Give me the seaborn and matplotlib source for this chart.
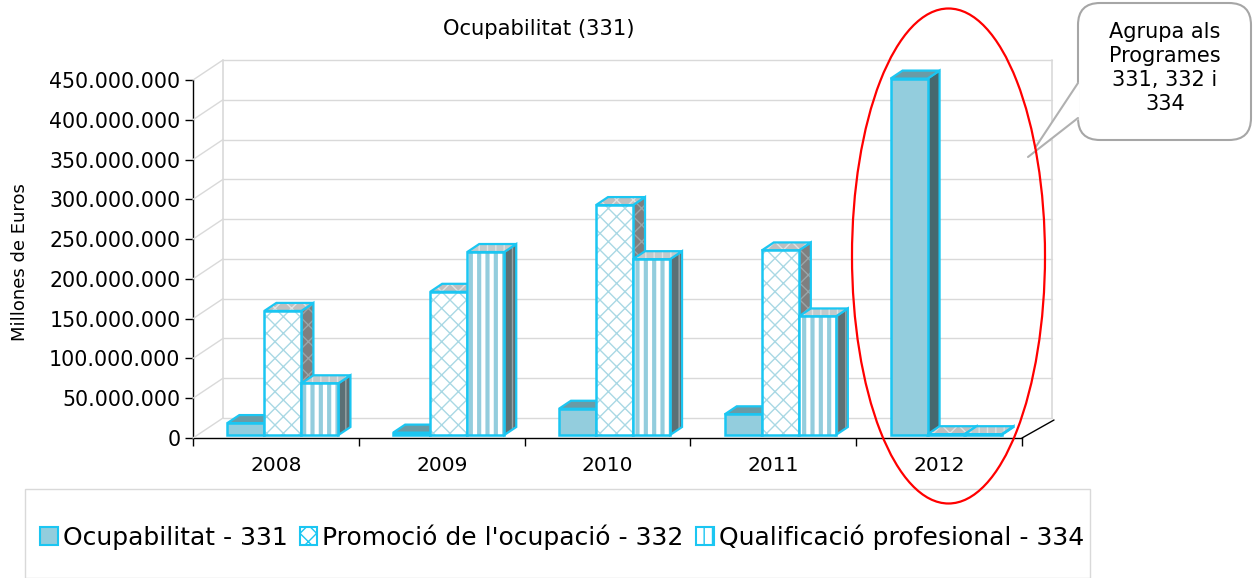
import pandas as pd
import matplotlib
matplotlib.use("Agg")
import matplotlib.pyplot as plt
import seaborn as sns
from matplotlib.patches import Polygon, Rectangle, Ellipse, FancyBboxPatch, Patch
from matplotlib.lines import Line2D
from matplotlib.transforms import ScaledTranslation, Affine2D
from matplotlib.ticker import FuncFormatter, FixedLocator

# values (euros)
years = ["2008", "2009", "2010", "2011", "2012"]
ocupabilitat = [15e6, 3e6, 33e6, 26e6, 448e6]
promocio = [156e6, 180e6, 289e6, 232e6, 1e6]
qualificacio = [65e6, 230e6, 221e6, 149e6, 1e6]
series_names = ["Ocupabilitat - 331", "Promoció de l'ocupació - 332",
                "Qualificació profesional - 334"]
y_ticks = list(range(0, 450_000_001, 50_000_000))

W, H = 1257, 578
CYAN = "#1BC6F2"
GRID = "#D9D9D9"

# per series: front fill, hatch, hatch colour, top fill, side fill
styles = [
    dict(front="#93CDDD", hatch=None, hcol="#93CDDD", top="#6A9BA6", side="#46686F"),
    dict(front="white", hatch="xx", hcol="#A9D8E4", top="#BFBFBF", side="#7F7F7F"),
    dict(front="white", hatch="||", hcol="#93CDDD", top="#C2CACC", side="#5B7075"),
]

df = pd.DataFrame({
    "Any": years * 3,
    "Programa": [n for n in series_names for _ in years],
    "Valor": ocupabilitat + promocio + qualificacio,
})

sns.set_style("white")
plt.rcParams["font.family"] = ["DejaVu Sans"]
plt.rcParams["text.color"] = "black"
plt.rcParams["xtick.color"] = "black"
plt.rcParams["ytick.color"] = "black"
plt.rcParams["hatch.linewidth"] = 1.0

fig = plt.figure(figsize=(W / 100, H / 100), dpi=100)
ax = fig.add_axes([193 / W, (H - 438) / H, (1022 - 193) / W, (438 - 80) / H])

sns.barplot(data=df, x="Any", y="Valor", hue="Programa",
            palette=[s["front"] for s in styles], width=0.67, saturation=1,
            legend=False, ax=ax)

ax.set_xlim(-0.5, 4.5)
ax.set_ylim(0, 450e6)
ax.set_xlabel("")
ax.set_ylabel("")
for s in ["top", "right"]:
    ax.spines[s].set_visible(False)
for s in ["left", "bottom"]:
    ax.spines[s].set_color("black")
    ax.spines[s].set_linewidth(1.0)
    ax.spines[s].set_zorder(20)
ax.grid(False)
ax.patch.set_alpha(0)

ax.yaxis.set_major_locator(FixedLocator(y_ticks))
ax.yaxis.set_major_formatter(FuncFormatter(lambda v, p: f"{int(v):,}".replace(",", ".")))
ax.tick_params(axis="y", direction="out", length=6, width=1, colors="black",
               labelsize=14.8, pad=3, left=True)
ax.set_xticks([i - 0.5 for i in range(6)])
ax.set_xticklabels([""] * 6)
ax.set_xticks(range(len(years)), labels=years, minor=True)
ax.tick_params(axis="x", which="major", direction="out", length=6, width=1,
               colors="black", bottom=True)
ax.tick_params(axis="x", which="minor", length=0, labelsize=14.5, pad=13,
               labelcolor="black")

# geometry in pixels -> data units
px_x = (1022 - 193) / 5.0
px_y = (438 - 80) / 450e6
wall = ScaledTranslation(0.30, 0.20, fig.dpi_scale_trans)
pix = Affine2D().scale(1 / W, -1 / H).translate(0, 1) + fig.transFigure
to_fig = fig.transFigure.inverted()

# back wall gridlines and diagonals
for yv in y_ticks:
    ax.plot([-0.5, 4.5], [yv, yv], color=GRID, lw=1, transform=ax.transData + wall,
            zorder=0.5, clip_on=False)
    p0 = ax.transData.transform((-0.5, yv))
    a = to_fig.transform(p0)
    b = to_fig.transform(p0 + [30, 20])
    fig.add_artist(Line2D([a[0], b[0]], [a[1], b[1]], color=GRID, lw=1, zorder=0.5))
for xv in [-0.5, 4.5]:
    ax.plot([xv, xv], [0, 450e6], color=GRID, lw=1.2, transform=ax.transData + wall,
            zorder=0.5, clip_on=False)
p0 = ax.transData.transform((4.5, 0))
a = to_fig.transform(p0)
b = to_fig.transform(p0 + [32, 18])
fig.add_artist(Line2D([a[0], b[0]], [a[1], b[1]], color="black", lw=1, zorder=25))

# 3D faces on the bars seaborn drew
shift = ax.transData + ScaledTranslation(0.07, 0.03, fig.dpi_scale_trans)
dxd = 12 / px_x
dyd = 8 / px_y


def add_face(pts, face, hatch, hcol, z):
    ax.add_patch(Polygon(pts, closed=True, facecolor=face, hatch=hatch, edgecolor=hcol,
                         lw=0, transform=shift, zorder=z, clip_on=False))
    ax.add_patch(Polygon(pts, closed=True, fill=False, edgecolor=CYAN, lw=1.6,
                         transform=shift, zorder=z + 0.01, clip_on=False))


n = len(years)
for k, bar in enumerate(list(ax.patches)):
    st = styles[k // n]
    base = 3 + k // n
    x, w, h = bar.get_x(), bar.get_width(), bar.get_height()
    side = [(x + w, 0), (x + w + dxd, dyd), (x + w + dxd, h + dyd), (x + w, h)]
    top = [(x, h), (x + w, h), (x + w + dxd, h + dyd), (x + dxd, h + dyd)]
    add_face(side, st["side"], st["hatch"], st["side"] if st["hatch"] is None else "#9AA5A8", base)
    add_face(top, st["top"], st["hatch"], st["top"] if st["hatch"] is None else "#E2E2E2", base + 0.1)
    bar.set_transform(shift)
    bar.set_clip_on(False)
    bar.set_facecolor(st["front"])
    bar.set_edgecolor(st["hcol"])
    bar.set_linewidth(0)
    if st["hatch"]:
        bar.set_hatch(st["hatch"])
        if hasattr(bar, "set_hatch_linewidth"):
            bar.set_hatch_linewidth(3.0 if st["hatch"] == "||" else 1.0)
    bar.set_zorder(base + 0.2)
    ax.add_patch(Rectangle((x, 0), w, h, fill=False, edgecolor=CYAN, lw=1.8,
                           transform=shift, zorder=base + 0.21, clip_on=False))

# titles
fig.text(539 / W, 1 - 29 / H, "Ocupabilitat (331)", ha="center", va="center",
         fontsize=15.2, color="black")
fig.text(20 / W, 1 - 262 / H, "Millones de Euros", ha="center", va="center",
         rotation=90, fontsize=13, color="black")

# legend
fig.add_artist(Rectangle((25 / W, 0), (1090 - 25) / W, (H - 489) / H, fill=False,
                         edgecolor=GRID, lw=1, transform=fig.transFigure))
handles = [Patch(facecolor=s["front"], edgecolor=CYAN, hatch=s["hatch"], lw=1.5) for s in styles]
fig.legend(handles, series_names, loc="center", bbox_to_anchor=(562 / W, 1 - 537 / H),
           ncol=3, frameon=False, fontsize=18, handlelength=0.7, handleheight=0.7,
           handletextpad=0.2, columnspacing=0.5, borderaxespad=0, labelcolor="black")

# callout and ellipse
box = FancyBboxPatch((1078, 3), 1251 - 1078, 137, boxstyle="round,pad=0,rounding_size=22",
                     facecolor="white", edgecolor="#A6A6A6", lw=1.5, transform=pix, zorder=30)
fig.add_artist(box)
fig.add_artist(Polygon([(1079, 82), (1030, 156), (1079, 119)], closed=True, facecolor="white",
                       edgecolor="none", transform=pix, zorder=31))
fig.add_artist(Line2D([1078, 1035], [83, 148], color="#B0B0B0", lw=1.5, transform=pix, zorder=32))
fig.add_artist(Line2D([1078, 1028], [118, 157], color="#B0B0B0", lw=1.5, transform=pix, zorder=32))
fig.text(1165 / W, 1 - 68 / H, "Agrupa als\nProgrames\n331, 332 i\n334", ha="center",
         va="center", fontsize=15, linespacing=1.25, zorder=33, color="black")
fig.add_artist(Ellipse((948.5, 256), 193, 495, fill=False, edgecolor="red", lw=1.6,
                       transform=pix, zorder=34))

fig.savefig("out.png", dpi=100)
